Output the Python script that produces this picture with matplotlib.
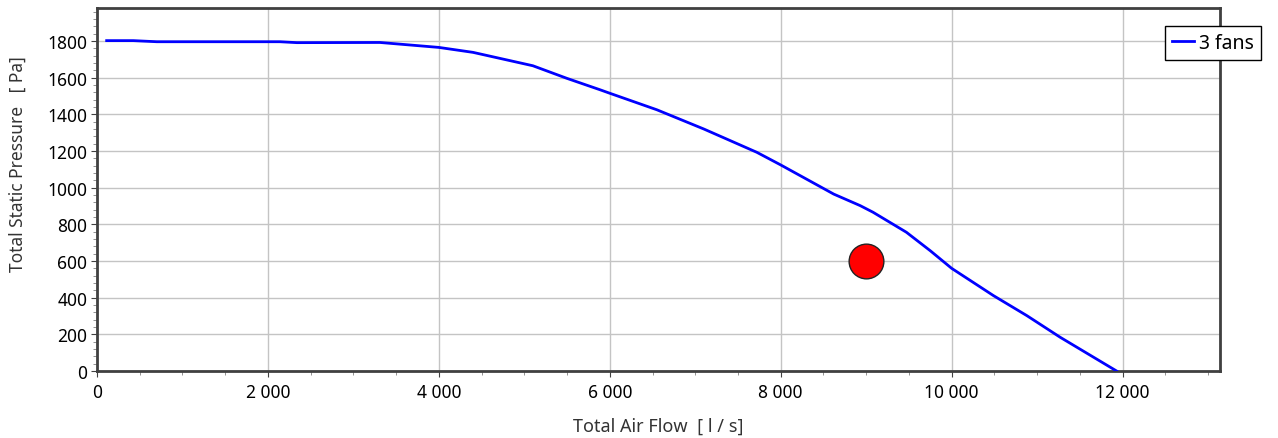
import matplotlib
matplotlib.use("Agg")
from matplotlib import pyplot as plt
from matplotlib.ticker import MultipleLocator, FuncFormatter
import numpy as np

# fan curve
flow = [113, 425, 700, 2140, 2340, 3310, 4000, 4400, 5100, 5500, 5886, 6000,
        6550, 7100, 7720, 8000, 8620, 8930, 9080, 9470, 9750, 10000, 10250,
        10490, 10880, 11270, 11930]
pressure = [1802, 1802, 1796, 1796, 1791, 1792, 1765, 1738, 1665, 1596, 1534, 1515,
            1425, 1320, 1193, 1124, 965, 902, 866, 757, 656, 560, 484,
            411, 302, 184, 0]
duty_flow = [9000]
duty_pressure = [600]
series_label = "3 fans"

plt.rcParams['font.family'] = ['Noto Sans', 'DejaVu Sans']
fig = plt.figure(figsize=(12.78, 4.39), dpi=100)
ax = fig.add_axes([97/1278, 1-372/439, (1220-97)/1278, (372-9)/439])

ax.plot(flow, pressure, color='#0000ff', lw=2, label=series_label, zorder=3)
ax.plot(duty_flow, duty_pressure, 'o', ms=25, mfc='#ff0000', mec='#222222', mew=1, zorder=4)

ax.set_xlim(0, 13140)
ax.set_ylim(0, 1980)
ax.xaxis.set_major_locator(MultipleLocator(2000))
ax.xaxis.set_minor_locator(MultipleLocator(500))
ax.yaxis.set_major_locator(MultipleLocator(200))
ax.yaxis.set_minor_locator(MultipleLocator(40))
ax.xaxis.set_major_formatter(FuncFormatter(lambda v, p: f"{int(v):,}".replace(",", " ")))
ax.grid(True, which='major', color='#c4c4c4', lw=1)
ax.set_axisbelow(True)

for s in ax.spines.values():
    s.set_color('#404040')
    s.set_linewidth(2)
ax.tick_params(which='major', length=4, color='#404040', pad=3)
ax.tick_params(axis='x', which='major', labelsize=12.5, pad=5)
ax.tick_params(axis='y', which='major', labelsize=12.5)
ax.tick_params(which='minor', length=3, color='#808080')

ax.set_xlabel("Total Air Flow  [ l / s]", fontsize=13, color='#333333', va='center')
ax.set_ylabel("Total Static Pressure   [ Pa]", fontsize=12.5, color='#333333', va='center')
ax.xaxis.set_label_coords(0.5, -(427-372)/363)
ax.yaxis.set_label_coords((18-97)/1123, (372-164)/363)

leg = ax.legend(loc='upper left', bbox_to_anchor=(1165/1278, 1-27/439),
                bbox_transform=fig.transFigure, borderaxespad=0, fancybox=False,
                framealpha=1, edgecolor='black', fontsize=14, handlelength=1.15,
                handletextpad=0.25, borderpad=0.35)
leg.get_frame().set_linewidth(1)
leg.set_clip_on(False)

fig.savefig("out.png", dpi=100)
